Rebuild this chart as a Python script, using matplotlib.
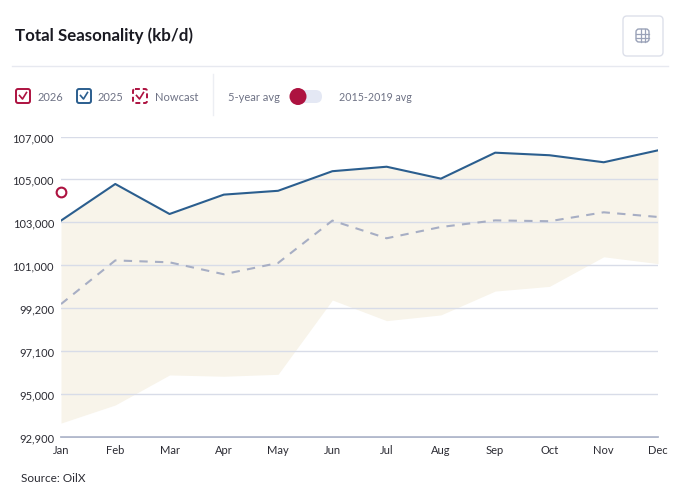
import matplotlib
matplotlib.use("Agg")
import matplotlib.pyplot as plt
from matplotlib.patches import FancyBboxPatch, Circle
import numpy as np

plt.rcParams['font.family'] = ['Lato', 'DejaVu Sans']

months = ['Jan', 'Feb', 'Mar', 'Apr', 'May', 'Jun',
          'Jul', 'Aug', 'Sep', 'Oct', 'Nov', 'Dec']
y_2025 = [103050, 104770, 103360, 104270, 104450, 105370,
          105580, 105020, 106240, 106120, 105790, 106350]
avg_5yr = [99130, 101180, 101090, 100530, 101060, 103050,
           102220, 102750, 103060, 103020, 103440, 103220]
range_low = [93540, 94390, 95800, 95740, 95830, 99320,
             98350, 98620, 99740, 99960, 101350, 101030]
range_high = [103050, 104770, 103360, 104270, 104450, 105370,
              105580, 105020, 106240, 106120, 105790, 106350]
nowcast_2026 = [104410]
tick_labels = ['92,900', '95,000', '97,100', '99,200',
               '101,000', '103,000', '105,000', '107,000']
y_min, y_max = 92900, 107000

BLUE = '#2b5e8e'
RED = '#ad1240'
GREY_TXT = '#6e7285'
DARK = '#2b2b33'

W, H = 676, 489
fig = plt.figure(figsize=(W / 100, H / 100), dpi=100)

# ---- header / legend drawn in pixel coordinates
ui = fig.add_axes([0, 0, 1, 1])
ui.set_xlim(0, W)
ui.set_ylim(H, 0)
ui.axis('off')

ui.text(15, 36, 'Total Seasonality (kb/d)', fontsize=12.2, fontweight='bold',
        color='#1a1a22', va='center', ha='left')
ui.plot([12, 668], [67, 67], color='#e7e9f0', lw=1)

# table button
ui.add_patch(FancyBboxPatch((623, 17), 40, 40, boxstyle='round,pad=0,rounding_size=4',
                            fc='white', ec='#dde0ea', lw=1))
ui.add_patch(FancyBboxPatch((636, 30), 13, 13, boxstyle='round,pad=0,rounding_size=3',
                            fc='none', ec='#9aa2b8', lw=1))
for gx in [640.5, 644.5]:
    ui.plot([gx, gx], [30, 43], color='#9aa2b8', lw=0.9)
for gy in [34.5, 38.5]:
    ui.plot([636, 649], [gy, gy], color='#9aa2b8', lw=0.9)


def checkbox(x, color, dashed=False):
    ui.add_patch(FancyBboxPatch((x, 90), 14, 14, boxstyle='round,pad=0,rounding_size=2',
                                fc='white', ec=color, lw=1.4,
                                ls=(0, (2.5, 1.5)) if dashed else '-'))
    ui.plot([x + 3.5, x + 6.5, x + 10.5], [96.5, 100, 93.5], color=color, lw=1.2)


checkbox(16, RED)
ui.text(38, 97.5, '2026', fontsize=8, color=GREY_TXT, va='center')
checkbox(77, BLUE)
ui.text(98, 97.5, '2025', fontsize=8, color=GREY_TXT, va='center')
checkbox(133, RED, dashed=True)
ui.text(155, 97.5, 'Nowcast', fontsize=8, color=GREY_TXT, va='center')
ui.plot([213, 213], [75, 116], color='#eceef3', lw=1)
ui.text(228, 97.5, '5-year avg', fontsize=8, color=GREY_TXT, va='center')
ui.add_patch(FancyBboxPatch((292, 91), 30, 13, boxstyle='round,pad=0,rounding_size=6.5',
                            fc='#e4e8f4', ec='none'))
ui.add_patch(Circle((298, 97.5), 8.5, fc=RED, ec='none'))
ui.text(339, 97.5, '2015-2019 avg', fontsize=7.7, color=GREY_TXT, va='center')

ui.text(21, 479, 'Source: OilX', fontsize=8.5, color=DARK, va='center')

# ---- chart
ax = fig.add_axes([61 / W, 1 - 437.7 / H, 597 / W, 300.2 / H])
ax.patch.set_alpha(0)
x = np.arange(len(months))

ax.fill_between(x, range_low, range_high, color='#f8f4ea', lw=0, zorder=1)
ax.plot(x, avg_5yr, color='#a7aec4', lw=1.5, ls=(0, (4, 3.5)), zorder=3)
ax.plot(x, y_2025, color=BLUE, lw=1.5, zorder=4)
ax.plot(x[:len(nowcast_2026)], nowcast_2026, 'o', ms=7, mfc='white', mec=RED,
        mew=1.5, zorder=5, clip_on=False)

ax.set_xlim(0, len(months) - 1)
ax.set_ylim(y_min, y_max)
ticks = np.linspace(y_min, y_max, len(tick_labels))
ax.set_yticks(ticks)
ax.set_yticklabels(tick_labels)
ax.set_xticks(x)
ax.set_xticklabels(months)
ax.tick_params(length=0, labelsize=8, labelcolor=DARK)
ax.tick_params(axis='y', pad=5)
ax.tick_params(axis='x', pad=5)
ax.yaxis.grid(True, color='#d8dce8', lw=1, zorder=2)
ax.set_axisbelow(False)
for s in ['top', 'right', 'left']:
    ax.spines[s].set_visible(False)
ax.spines['bottom'].set_color('#a3acc2')
ax.spines['bottom'].set_linewidth(1.2)

fig.savefig('out.png', dpi=100)
